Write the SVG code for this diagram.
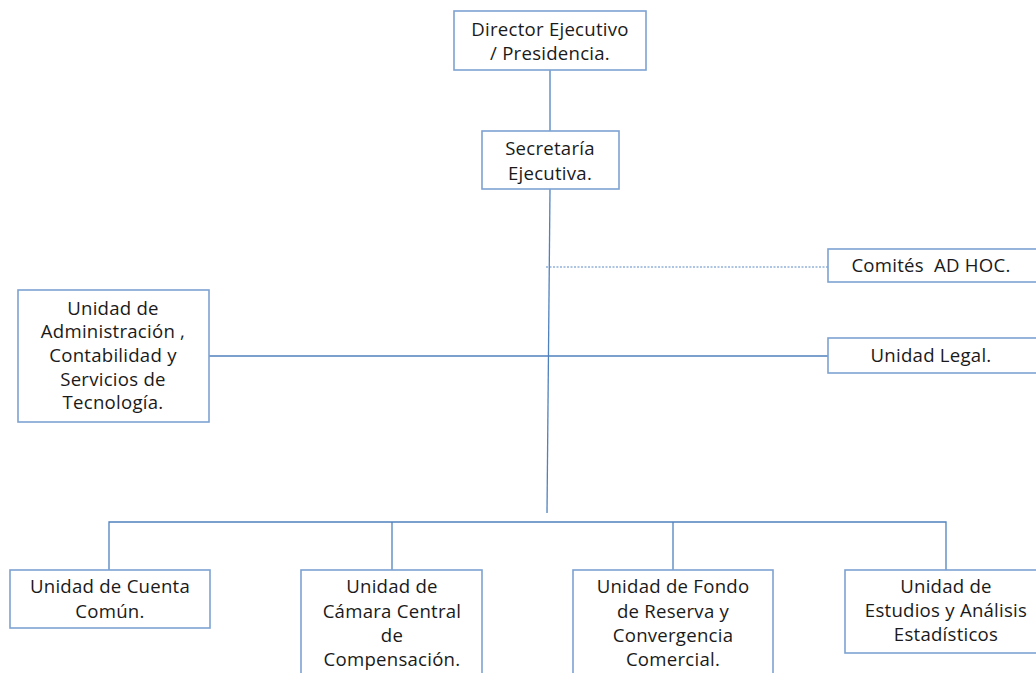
<svg xmlns="http://www.w3.org/2000/svg" width="1036" height="673" viewBox="0 0 1036 673">
<style>
.box{fill:#ffffff;stroke:#7da2d3;stroke-width:1.6}
.ln{fill:none;stroke:#4f81bd;stroke-width:1.3}
.dash{fill:none;stroke:#5b8ac4;stroke-width:1;stroke-dasharray:2 1.5}
text{font-family:"Open Sans","Liberation Sans",sans-serif;font-size:18.6px;fill:#1a1a1a;text-anchor:middle;letter-spacing:0.25px}
.pre{white-space:pre}
</style>
<rect width="1036" height="673" fill="#ffffff"/>
<g id="connectors">
<line class="ln" x1="550" y1="70" x2="550" y2="131"/>
<line class="ln" x1="550" y1="189" x2="547" y2="513"/>
<line class="dash" x1="546" y1="267" x2="828" y2="267"/>
<line class="ln" x1="209" y1="356" x2="828" y2="356"/>
<polyline class="ln" points="109,570 109,522 946,522 946,570"/>
<line class="ln" x1="392" y1="522" x2="392" y2="570"/>
<line class="ln" x1="673" y1="522" x2="673" y2="570"/>
</g>
<g id="director">
<rect class="box" x="454" y="11" width="192" height="59"/>
<text x="550" y="36">Director Ejecutivo</text>
<text x="550" y="60">/ Presidencia.</text>
</g>
<g id="secretaria">
<rect class="box" x="482" y="131" width="137" height="58"/>
<text x="550" y="155">Secretaría</text>
<text x="550" y="180">Ejecutiva.</text>
</g>
<g id="comites">
<rect class="box" x="828" y="249" width="215" height="33"/>
<text class="pre" x="931" y="272" xml:space="preserve">Comités  AD HOC.</text>
</g>
<g id="legal">
<rect class="box" x="828" y="338" width="215" height="35"/>
<text x="931" y="362">Unidad Legal.</text>
</g>
<g id="administracion">
<rect class="box" x="18" y="290" width="191" height="132"/>
<text x="113" y="315">Unidad de</text>
<text x="113" y="338">Administración ,</text>
<text x="113" y="362">Contabilidad y</text>
<text x="113" y="386">Servicios de</text>
<text x="113" y="409">Tecnología.</text>
</g>
<g id="cuenta">
<rect class="box" x="10" y="570" width="200" height="58"/>
<text x="110" y="593">Unidad de Cuenta</text>
<text x="110" y="618">Común.</text>
</g>
<g id="camara">
<rect class="box" x="301" y="570" width="181" height="110"/>
<text x="392" y="593">Unidad de</text>
<text x="392" y="618">Cámara Central</text>
<text x="392" y="642">de</text>
<text x="392" y="666">Compensación.</text>
</g>
<g id="fondo">
<rect class="box" x="573" y="570" width="200" height="110"/>
<text x="673" y="593">Unidad de Fondo</text>
<text x="673" y="618">de Reserva y</text>
<text x="673" y="642">Convergencia</text>
<text x="673" y="666">Comercial.</text>
</g>
<g id="estudios">
<rect class="box" x="845" y="570" width="210" height="83"/>
<text x="946" y="593">Unidad de</text>
<text x="946" y="617">Estudios y Análisis</text>
<text x="946" y="641">Estadísticos</text>
</g>
</svg>
